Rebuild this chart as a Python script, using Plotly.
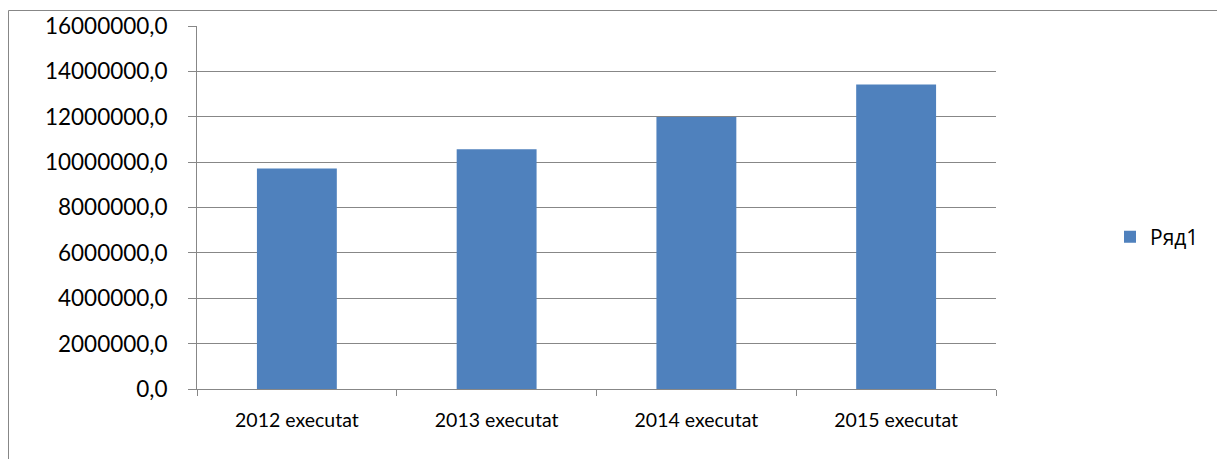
import plotly.graph_objects as go

categories = ["2012 executat", "2013 executat", "2014 executat", "2015 executat"]
values = [9720000, 10570000, 11990000, 13420000]
series_name = "Ряд1"
y_ticks = [0, 2000000, 4000000, 6000000, 8000000, 10000000, 12000000, 14000000, 16000000]

W, H = 1217, 459
L, R, T, B = 197, 221, 26, 70
pw, ph = W - L - R, H - T - B

def px_x(x):
    return (x - L) / pw

def px_y(y):
    return (H - B - y) / ph

fig = go.Figure()
fig.add_trace(go.Bar(
    x=categories, y=values, name=series_name,
    marker=dict(color="#4F81BD", line=dict(width=0)),
    showlegend=True,
))

grey = "#878787"
fig.update_layout(
    width=W, height=H,
    margin=dict(l=L, r=R, t=T, b=B, pad=0),
    paper_bgcolor="white", plot_bgcolor="white",
    font=dict(family="Lato", size=20, color="#000000"),
    separators=", ",
    bargap=0.6,
    showlegend=True,
    legend=dict(x=px_x(1110), y=px_y(237), xanchor="left", yanchor="middle",
                font=dict(size=21, family="Open Sans"), bgcolor="rgba(0,0,0,0)"),
    xaxis=dict(showgrid=False, showline=True, linecolor=grey, linewidth=1,
               ticks="outside", tickson="boundaries", ticklen=6, tickcolor=grey,
               tickfont=dict(size=19.5), ticklabelstandoff=14),
    yaxis=dict(range=[0, 16000000], tickvals=y_ticks, tickformat=".1f",
               showgrid=True, gridcolor=grey, gridwidth=1,
               showline=True, linecolor=grey, linewidth=1,
               ticks="outside", ticklen=8, tickcolor=grey,
               tickfont=dict(size=22.5), ticklabelstandoff=16, zeroline=False),
    shapes=[dict(type="rect", xref="paper", yref="paper",
                 x0=px_x(8.5), x1=px_x(1230), y0=px_y(470), y1=px_y(10.5),
                 line=dict(color=grey, width=1), fillcolor="rgba(0,0,0,0)", layer="below")],
)

fig.write_html("out.html")
